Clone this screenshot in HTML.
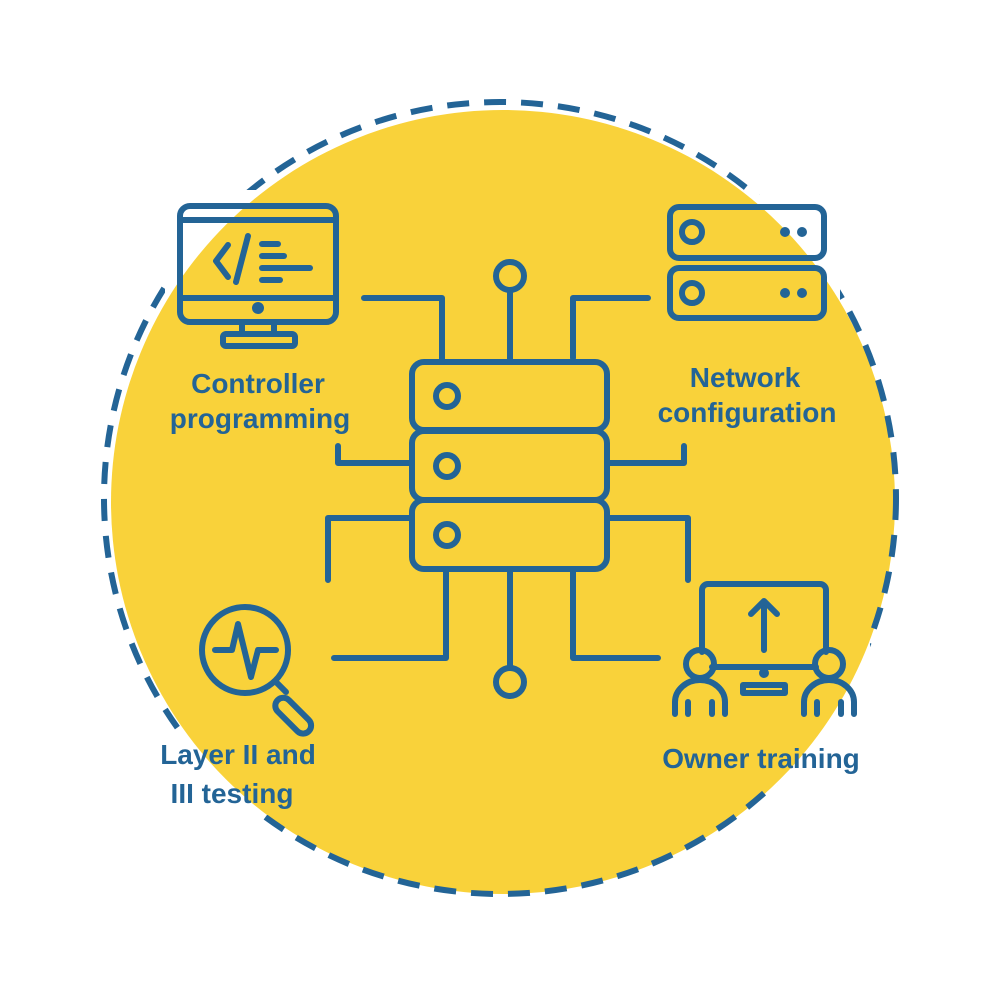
<!DOCTYPE html>
<html><head><style>
html,body{margin:0;padding:0;background:#fff;width:1000px;height:1000px;overflow:hidden}
text{font-family:"Liberation Sans",sans-serif;font-weight:bold;fill:#236496;font-size:28px}
</style></head><body>
<svg width="1000" height="1000" viewBox="0 0 1000 1000" xmlns="http://www.w3.org/2000/svg">
<defs>
<mask id="m">
<rect x="0" y="0" width="1000" height="1000" fill="#fff"/>
<rect x="165" y="190" width="185" height="170" fill="#000"/>
<rect x="655" y="195" width="185" height="135" fill="#000"/>
<rect x="660" y="570" width="210" height="215" fill="#000"/>
<rect x="150" y="730" width="170" height="85" fill="#000"/>
</mask>
</defs>
<circle cx="503" cy="502" r="392" fill="#f9d23a"/>
<circle cx="500" cy="498" r="396" fill="none" stroke="#236496" stroke-width="6" stroke-dasharray="22 15" mask="url(#m)"/>
<g fill="none" stroke="#236496" stroke-width="6" stroke-linecap="round" stroke-linejoin="round">
<rect x="412" y="362" width="195" height="68" rx="12"/>
<rect x="412" y="431" width="195" height="69" rx="12"/>
<rect x="412" y="500" width="195" height="69" rx="12"/>
<circle cx="447" cy="396" r="11"/><circle cx="447" cy="466" r="11"/><circle cx="447" cy="535" r="11"/>
<circle cx="510" cy="276" r="14"/><line x1="510" y1="290" x2="510" y2="362"/>
<circle cx="510" cy="682" r="14"/><line x1="510" y1="569" x2="510" y2="668"/>
<polyline points="364,298 442,298 442,362"/>
<polyline points="648,298 573,298 573,358"/>
<polyline points="338,446 338,463 412,463"/>
<polyline points="607,463 684,463 684,446"/>
<polyline points="412,518 328,518 328,580"/>
<polyline points="607,518 688,518 688,580"/>
<polyline points="446,569 446,658 334,658"/>
<polyline points="573,569 573,658 658,658"/>
<rect x="180" y="206" width="156" height="116" rx="10"/>
<line x1="183" y1="220" x2="333" y2="220"/>
<line x1="183" y1="298" x2="333" y2="298"/>
<circle cx="258" cy="308" r="3" fill="#236496"/>
<rect x="242" y="322" width="32" height="12"/>
<rect x="223" y="334" width="72" height="12" rx="3"/>
<polyline points="228,245 216,261 228,277"/>
<line x1="248" y1="236" x2="236" y2="282"/>
<line x1="262" y1="244" x2="278" y2="244"/>
<line x1="262" y1="256" x2="284" y2="256"/>
<line x1="262" y1="268" x2="310" y2="268"/>
<line x1="262" y1="280" x2="280" y2="280"/>
<rect x="670" y="207" width="154" height="51" rx="9"/>
<rect x="670" y="268" width="154" height="50" rx="9"/>
<circle cx="692" cy="232" r="10"/><circle cx="692" cy="293" r="10"/>
<circle cx="785" cy="232" r="2" fill="#236496"/><circle cx="802" cy="232" r="2" fill="#236496"/>
<circle cx="785" cy="293" r="2" fill="#236496"/><circle cx="802" cy="293" r="2" fill="#236496"/>
<circle cx="245" cy="650" r="43"/>
<polyline points="215,650 232,650 238,624 251,677 258,650 276,650"/>
<line x1="276" y1="682" x2="286" y2="692"/>
<rect x="281" y="696" width="44" height="16" rx="8" transform="rotate(45 284 698)"/>
<path d="M702,652 V590 a6,6 0 0 1 6,-6 H820 a6,6 0 0 1 6,6 V652"/>
<line x1="712" y1="667" x2="816" y2="667"/>
<circle cx="764" cy="673" r="2" fill="#236496"/>
<rect x="743" y="685" width="42" height="8"/>
<line x1="764" y1="650" x2="764" y2="602"/>
<polyline points="751,614 764,601 777,614"/>
<circle cx="700" cy="664" r="14"/><circle cx="829" cy="664" r="14"/>
<path d="M675,714 V702 a25,22 0 0 1 50,0 V714"/>
<path d="M804,714 V702 a25,22 0 0 1 50,0 V714"/>
<line x1="688" y1="702" x2="688" y2="714"/><line x1="712" y1="702" x2="712" y2="714"/>
<line x1="817" y1="702" x2="817" y2="714"/><line x1="841" y1="702" x2="841" y2="714"/>
</g>
<text x="258" y="393" text-anchor="middle">Controller</text>
<text x="260" y="428" text-anchor="middle">programming</text>
<text x="745" y="387" text-anchor="middle">Network</text>
<text x="747" y="422" text-anchor="middle">configuration</text>
<text x="238" y="764" text-anchor="middle">Layer II and</text>
<text x="232" y="803" text-anchor="middle">III testing</text>
<text x="761" y="768" text-anchor="middle">Owner training</text>
</svg>
</body></html>
